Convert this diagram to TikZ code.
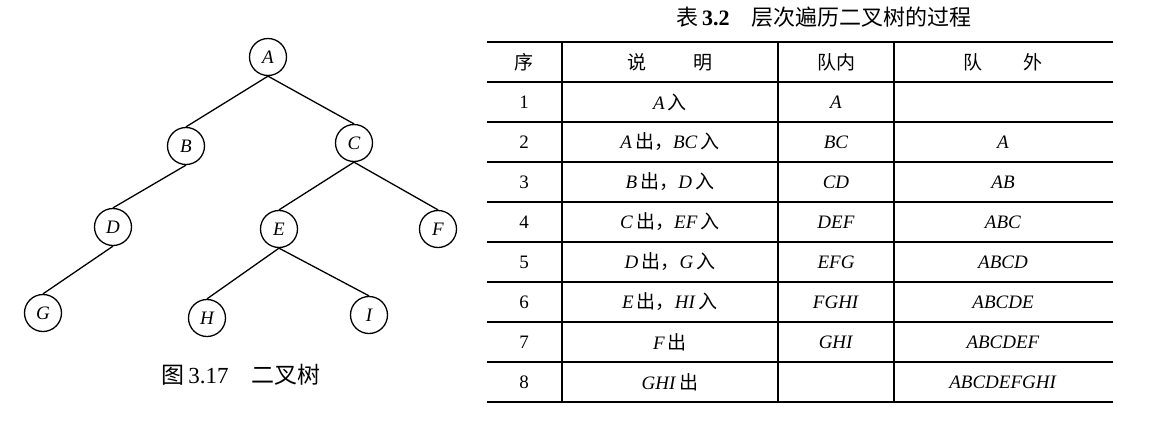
\documentclass[tikz,border=0pt]{standalone}
\usepackage{fontspec}
\setmainfont{Liberation Serif}
\newfontfamily\zhfont{Noto Sans CJK SC}
\newcommand{\zh}[1]{{\zhfont #1}}
\tikzset{
  vertex/.style={draw, circle, minimum size=37pt, inner sep=0pt, line width=1.3pt,
    font=\fontsize{19}{21}\selectfont\itshape},
  cell/.style={inner sep=0pt, font=\fontsize{19}{21}\selectfont},
  titletext/.style={inner sep=0pt, font=\fontsize{22}{24}\selectfont},
  thickrule/.style={line width=2.5pt},
  thinrule/.style={line width=1.1pt},
}
\begin{document}
\begin{tikzpicture}[x=1pt,y=-1pt]
  \useasboundingbox (0,0) rectangle (1171,426);
  % binary tree
  \draw
    (268,57) node[vertex] (A){A}
    (186,146) node[vertex] (B){B}
    (354,143) node[vertex] (C){C}
    (113,227) node[vertex] (D){D}
    (279,229) node[vertex] (E){E}
    (438,229) node[vertex] (F){F}
    (43,313) node[vertex] (G){G}
    (207,318) node[vertex] (H){H}
    (369,315) node[vertex] (I){I};
  \begin{scope}[line width=1.3pt]
    \draw (A.south) to (B.north);
    \draw (A.south) to (C.north);
    \draw (B.south) to (D.north);
    \draw (C.south) to (E.north);
    \draw (C.south) to (F.north);
    \draw (D.south) to (G.north);
    \draw (E.south) to (H.north);
    \draw (E.south) to (I.north);
  \end{scope}
  \node[titletext, font=\fontsize{23}{25}\selectfont] (figcap) at (241,375) {\zh{图}\,3.17\quad\zh{二叉树}};
  % table
  \node[titletext] (tabcap) at (824,17) {\zh{表}\,\textbf{3.2}\quad\zh{层次遍历二叉树的过程}};
  \draw[thickrule] (487,42) -- (1113,42);
  \draw[thickrule] (487,402) -- (1113,402);
  \begin{scope}[thinrule]
    \draw (487,82) -- (1113,82);
    \draw (487,122) -- (1113,122);
    \draw (487,162) -- (1113,162);
    \draw (487,202) -- (1113,202);
    \draw (487,242) -- (1113,242);
    \draw (487,282) -- (1113,282);
    \draw (487,322) -- (1113,322);
    \draw (487,362) -- (1113,362);
    \draw (562,42) -- (562,402);
    \draw (778,42) -- (778,402);
    \draw (894,42) -- (894,402);
  \end{scope}
  \draw
    (524,62) node[cell] (h1){\zh{序}}
    (670,62) node[cell] (h2){\zh{说\hspace{2.5em}明}}
    (836,62) node[cell] (h3){\zh{队内}}
    (1003,62) node[cell] (h4){\zh{队\hspace{2.2em}外}}
    (524,102) node[cell] (n1){1}
    (670,102) node[cell] (d1){\textit{A}\,\zh{入}}
    (836,102) node[cell] (q1){\textit{A}}
    (524,142) node[cell] (n2){2}
    (670,142) node[cell] (d2){\textit{A}\,\zh{出，}\textit{BC}\,\zh{入}}
    (836,142) node[cell] (q2){\textit{BC}}
    (1003,142) node[cell] (o2){\textit{A}}
    (524,182) node[cell] (n3){3}
    (670,182) node[cell] (d3){\textit{B}\,\zh{出，}\textit{D}\,\zh{入}}
    (836,182) node[cell] (q3){\textit{CD}}
    (1003,182) node[cell] (o3){\textit{AB}}
    (524,222) node[cell] (n4){4}
    (670,222) node[cell] (d4){\textit{C}\,\zh{出，}\textit{EF}\,\zh{入}}
    (836,222) node[cell] (q4){\textit{DEF}}
    (1003,222) node[cell] (o4){\textit{ABC}}
    (524,262) node[cell] (n5){5}
    (670,262) node[cell] (d5){\textit{D}\,\zh{出，}\textit{G}\,\zh{入}}
    (836,262) node[cell] (q5){\textit{EFG}}
    (1003,262) node[cell] (o5){\textit{ABCD}}
    (524,302) node[cell] (n6){6}
    (670,302) node[cell] (d6){\textit{E}\,\zh{出，}\textit{HI}\,\zh{入}}
    (836,302) node[cell] (q6){\textit{FGHI}}
    (1003,302) node[cell] (o6){\textit{ABCDE}}
    (524,342) node[cell] (n7){7}
    (670,342) node[cell] (d7){\textit{F}\,\zh{出}}
    (836,342) node[cell] (q7){\textit{GHI}}
    (1003,342) node[cell] (o7){\textit{ABCDEF}}
    (524,382) node[cell] (n8){8}
    (670,382) node[cell] (d8){\textit{GHI}\,\zh{出}}
    (1003,382) node[cell] (o8){\textit{ABCDEFGHI}};
\end{tikzpicture}
\end{document}
